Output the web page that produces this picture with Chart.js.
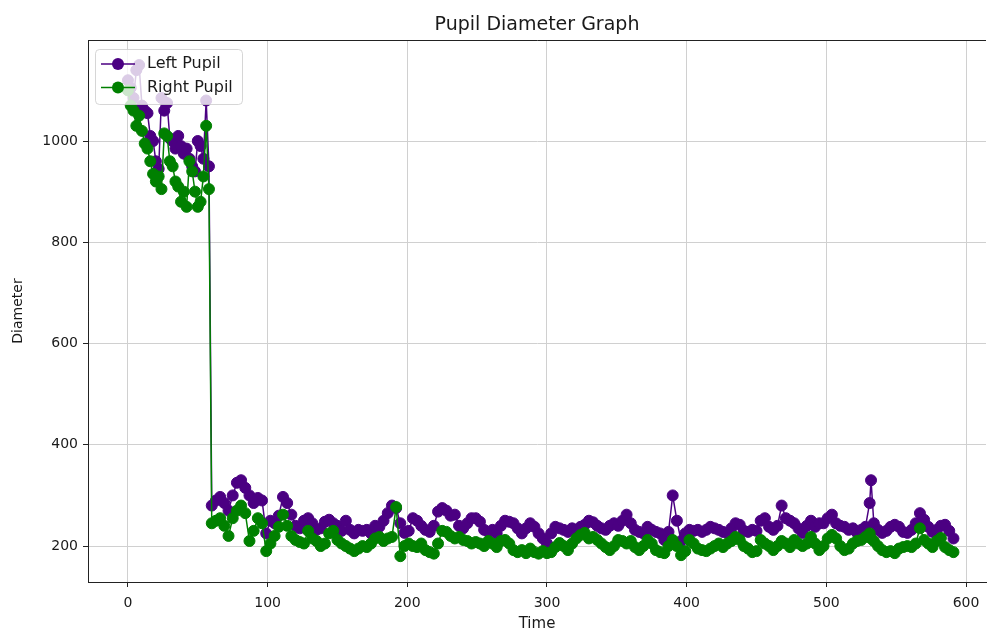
<!DOCTYPE html>
<html><head><meta charset="utf-8">
<script src="https://cdn.jsdelivr.net/npm/chart.js@4"></script>
<style>html,body{margin:0;padding:0;background:#fff}#wrap{width:987px;height:630px}</style>
</head><body><div id="wrap"><canvas id="c" width="987" height="630"></canvas></div>
<script>
const chartTitle = 'Pupil Diameter Graph';
const xTitle = 'Time';
const yTitle = 'Diameter';
const seriesNames = ['Left Pupil', 'Right Pupil'];
const seriesColors = ['#4b0082', '#008000'];
const xTicks = [0, 100, 200, 300, 400, 500, 600];
const yTicks = [200, 400, 600, 800, 1000];

const times = [
  0,2,4,6,8,10,12,14,16,18,20,22,24,26,28,30,32,34,36,38,40,42,44,46,48,50,52,54,56,58,
  60,63,66,69,72,75,78,81,84,87,
  90,93,96,99,102,105,108,111,114,117,
  120,123,126,129,132,135,138,141,144,147,
  150,153,156,159,162,165,168,171,174,177,
  180,183,186,189,192,195,198,201,204,207,
  210,213,216,219,222,225,228,231,234,237,
  240,243,246,249,252,255,258,261,264,267,
  270,273,276,279,282,285,288,291,294,297,
  300,303,306,309,312,315,318,321,324,327,
  330,333,336,339,342,345,348,351,354,357,
  360,363,366,369,372,375,378,381,384,387,
  390,393,396,399,402,405,408,411,414,417,
  420,423,426,429,432,435,438,441,444,447,
  450,453,456,459,462,465,468,471,474,477,
  480,483,486,489,492,495,498,501,504,507,
  510,513,516,519,522,525,528,531,532,534,
  537,540,543,546,549,552,555,558,561,564,
  567,570,573,576,579,582,585,588,591
];

const leftPupil = [
  1120,1105,1085,1140,1150,1070,1060,1055,1010,1000,960,945,1085,1060,1075,1005,1000,985,1010,990,975,985,965,950,940,1000,990,965,1080,950,
  280,290,297,285,270,300,325,330,315,300,
  285,295,290,225,250,245,260,297,285,262,
  240,235,250,255,245,232,235,248,252,245,
  240,230,250,232,225,232,230,232,225,240,
  238,250,265,280,275,245,226,230,255,250,
  240,232,228,240,268,275,270,260,262,240,
  235,245,255,255,248,232,228,232,225,240,
  250,248,245,235,225,235,245,238,225,215,
  205,225,238,235,232,228,235,232,238,242,
  250,247,240,235,232,240,245,240,250,262,
  245,232,228,225,238,232,228,225,212,228,
  300,250,210,225,232,230,232,228,232,238,
  235,232,228,226,235,245,242,230,228,232,
  230,250,255,238,232,240,280,255,250,245,
  235,226,240,250,238,245,245,255,262,245,
  240,238,232,235,226,232,238,285,330,245,
  232,226,230,238,242,238,228,226,232,245,
  265,252,238,228,232,240,242,230,215
];

const rightPupil = [
  1100,1070,1060,1030,1050,1020,995,985,960,935,920,930,905,1015,1010,960,950,920,910,880,900,870,960,940,900,870,880,930,1030,905,
  245,250,255,240,220,255,270,280,265,210,
  230,255,245,190,205,220,238,262,240,220,
  212,208,205,230,215,210,200,205,225,230,
  212,205,200,195,190,195,200,198,205,215,
  218,210,215,218,277,180,200,205,200,198,
  205,192,188,185,205,230,228,220,215,218,
  212,210,205,208,205,200,210,205,198,210,
  212,205,192,188,192,186,195,188,185,190,
  186,188,198,206,200,192,205,215,222,226,
  215,218,212,205,198,192,200,212,210,205,
  210,198,192,200,212,205,192,188,186,200,
  212,200,182,190,212,205,195,192,190,195,
  200,205,198,205,210,218,212,200,195,188,
  190,212,205,200,192,200,210,205,198,212,
  205,200,205,218,205,192,200,215,222,215,
  200,192,195,205,210,212,218,225,215,210,
  200,192,188,190,186,195,198,200,198,205,
  235,212,205,198,210,216,198,192,188
];

const FONT = "'DejaVu Sans', 'Liberation Sans', sans-serif";
const TXT = '#1a1a1a';

const framePlugin = {
  id: 'frame',
  afterDatasetsDraw(chart) {
    const {ctx, chartArea: a} = chart;
    ctx.save();
    ctx.strokeStyle = '#222';
    ctx.lineWidth = 1;
    ctx.beginPath();
    ctx.moveTo(a.left + 0.5, a.bottom + 0.5);
    ctx.lineTo(a.left + 0.5, a.top + 0.5);
    ctx.lineTo(a.right, a.top + 0.5);
    ctx.moveTo(a.left + 0.5, a.bottom + 0.5);
    ctx.lineTo(a.right, a.bottom + 0.5);
    ctx.stroke();
    // title centred over the plot area, as matplotlib does
    ctx.fillStyle = TXT;
    ctx.font = '19px ' + FONT;
    ctx.textAlign = 'center';
    ctx.textBaseline = 'middle';
    ctx.fillText(chartTitle, (a.left + a.right) / 2, 25);
    ctx.restore();
  }
};

const legendPlugin = {
  id: 'mplLegend',
  afterDatasetsDraw(chart) {
    const ctx = chart.ctx;
    const x0 = 95.5, y0 = 49.5, w = 147, h = 55, r = 4;
    ctx.save();
    ctx.beginPath();
    ctx.moveTo(x0 + r, y0);
    ctx.lineTo(x0 + w - r, y0);
    ctx.quadraticCurveTo(x0 + w, y0, x0 + w, y0 + r);
    ctx.lineTo(x0 + w, y0 + h - r);
    ctx.quadraticCurveTo(x0 + w, y0 + h, x0 + w - r, y0 + h);
    ctx.lineTo(x0 + r, y0 + h);
    ctx.quadraticCurveTo(x0, y0 + h, x0, y0 + h - r);
    ctx.lineTo(x0, y0 + r);
    ctx.quadraticCurveTo(x0, y0, x0 + r, y0);
    ctx.closePath();
    ctx.fillStyle = 'rgba(255,255,255,0.8)';
    ctx.fill();
    ctx.strokeStyle = 'rgba(204,204,204,0.8)';
    ctx.lineWidth = 1;
    ctx.stroke();
    seriesNames.forEach((name, i) => {
      const cy = 64 + i * 23.5;
      ctx.strokeStyle = seriesColors[i];
      ctx.lineWidth = 1.5;
      ctx.beginPath();
      ctx.moveTo(101, cy);
      ctx.lineTo(135, cy);
      ctx.stroke();
      ctx.fillStyle = seriesColors[i];
      ctx.beginPath();
      ctx.arc(118, cy, 6, 0, Math.PI * 2);
      ctx.fill();
      ctx.fillStyle = TXT;
      ctx.font = '16px ' + FONT;
      ctx.textAlign = 'left';
      ctx.textBaseline = 'middle';
      ctx.fillText(name, 147, cy);
    });
    ctx.restore();
  }
};

const mk = (vals) => times.map((t, i) => ({x: t, y: vals[i]}));

new Chart(document.getElementById('c'), {
  type: 'line',
  data: {
    datasets: [
      {label: seriesNames[0], data: mk(leftPupil), borderColor: seriesColors[0], backgroundColor: seriesColors[0],
       pointBackgroundColor: seriesColors[0], pointBorderColor: seriesColors[0], pointRadius: 5.5, pointBorderWidth: 1,
       borderWidth: 1.5, tension: 0, order: 1},
      {label: seriesNames[1], data: mk(rightPupil), borderColor: seriesColors[1], backgroundColor: seriesColors[1],
       pointBackgroundColor: seriesColors[1], pointBorderColor: seriesColors[1], pointRadius: 5.5, pointBorderWidth: 1,
       borderWidth: 1.5, tension: 0, order: 0}
    ]
  },
  options: {
    responsive: false,
    animation: false,
    devicePixelRatio: 1,
    layout: {autoPadding: false, padding: {left: 0, right: 1, top: 40, bottom: 0}},
    plugins: {
      legend: {display: false},
      tooltip: {enabled: false},
      title: {display: false}
    },
    scales: {
      x: {
        type: 'linear', min: -28.6, max: 614.3,
        afterFit(s) { s.height = 48; s.paddingLeft = 0; s.paddingRight = 0; },
        afterBuildTicks(s) { s.ticks = xTicks.map(v => ({value: v})); },
        grid: {color: '#d0d0d0', lineWidth: 1, drawTicks: true, tickLength: 5, tickColor: '#222'},
        border: {display: true, color: '#222', width: 1},
        ticks: {color: TXT, font: {family: FONT, size: 14}, padding: 8, maxRotation: 0, autoSkip: false,
                callback: (v) => String(v)},
        title: {display: true, text: xTitle, color: TXT, font: {family: FONT, size: 15, lineHeight: 1}, padding: {top: 0, bottom: -2}}
      },
      y: {
        type: 'linear', min: 129, max: 1199.5,
        afterFit(s) { s.width = 88; s.paddingTop = 0; s.paddingBottom = 0; },
        afterBuildTicks(s) { s.ticks = yTicks.map(v => ({value: v})); },
        grid: {color: '#d0d0d0', lineWidth: 1, drawTicks: true, tickLength: 5, tickColor: '#222'},
        border: {display: true, color: '#222', width: 1},
        ticks: {color: TXT, font: {family: FONT, size: 14}, padding: 5, autoSkip: false,
                callback: (v) => String(v)},
        title: {display: true, text: yTitle, color: TXT, font: {family: FONT, size: 14, lineHeight: 1.2}, padding: {top: 10, bottom: 0}}
      }
    }
  },
  plugins: [framePlugin, legendPlugin]
});
</script>
</body></html>
